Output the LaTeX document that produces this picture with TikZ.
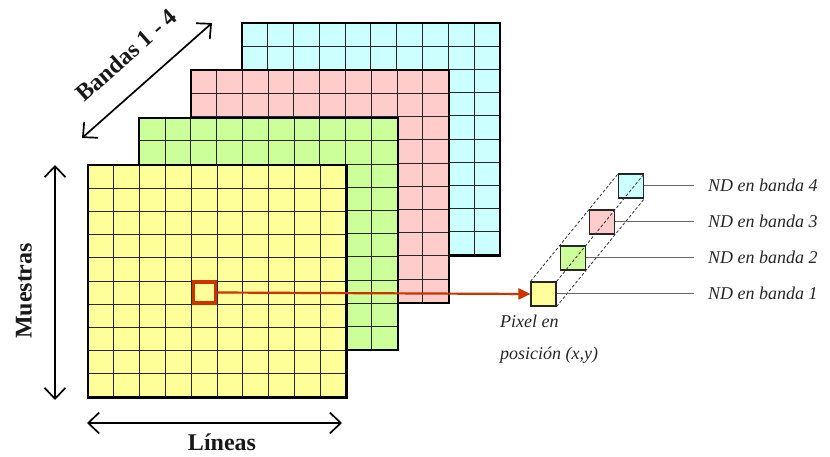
\documentclass[tikz,border=0pt]{standalone}
\usepackage{fontspec}
\setmainfont{Liberation Serif}
\usetikzlibrary{arrows.meta,calc}
\definecolor{cyanfill}{RGB}{204,255,255}
\definecolor{pinkfill}{RGB}{255,204,204}
\definecolor{greenfill}{RGB}{204,255,153}
\definecolor{yellowfill}{RGB}{255,255,153}
\definecolor{redline}{RGB}{204,51,0}
\tikzset{
  sheetbox/.style={fill=#1, draw=none, minimum width=258pt, minimum height=232pt, inner sep=0pt, anchor=north west},
  gridline/.style={line width=1pt, black!85},
  border/.style={line width=2.2pt, black},
  dimarrow/.style={line width=1.7pt, black, {Straight Barb[length=11pt,width=21pt,line width=1.7pt]}-{Straight Barb[length=11pt,width=21pt,line width=1.7pt]}},
  boldlabel/.style={font=\fontsize{24}{28}\selectfont\bfseries, text=black!90},
  itlabel/.style={font=\fontsize{18}{32}\selectfont\itshape, text=black!85},
  pixbox/.style={fill=#1, draw=black!85, line width=1.1pt, minimum width=25pt, minimum height=24pt, inner sep=0pt},
  dashline/.style={black!80, line width=0.8pt, dash pattern=on 3pt off 2pt},
  leader/.style={black!60, line width=0.8pt},
}
\newcommand{\sheetgrid}[1]{%
  \foreach \i in {1,...,9} {
    \draw[gridline] ($(#1.north west)+(\i*25.8,0)$) -- ($(#1.south west)+(\i*25.8,0)$);
    \draw[gridline] ($(#1.north west)+(0,\i*23.2)$) -- ($(#1.north east)+(0,\i*23.2)$);
  }
  \draw[border] (#1.north west) rectangle (#1.south east);
}
\begin{document}
\begin{tikzpicture}[x=1pt,y=-1pt]
\useasboundingbox (0,0) rectangle (830,457);
% sheets
\node[sheetbox=cyanfill] (b4) at (241.9,23.1) {};
\sheetgrid{b4}
\node[sheetbox=pinkfill] (b3) at (190.6,70.4) {};
\sheetgrid{b3}
\node[sheetbox=greenfill] (b2) at (139.3,117.7) {};
\sheetgrid{b2}
\node[sheetbox=yellowfill] (b1) at (88,165) {};
\sheetgrid{b1}
% selected pixel
\node[draw=redline, line width=3.5pt, minimum width=22pt, minimum height=21pt, inner sep=0pt] (px) at (204.5,292.5) {};
% pixel stack
\node[pixbox=yellowfill] (s1) at (543.5,294) {};
\node[pixbox=greenfill] (s2) at (572.8,258) {};
\node[pixbox=pinkfill] (s3) at (602.1,222) {};
\node[pixbox=cyanfill] (s4) at (631.4,186) {};
\draw[dashline] (s1.north west) -- (s4.north west);
\draw[dashline] (s1.north east) -- (s4.north east);
\draw[dashline] (s1.south east) -- (s4.south east);
% red arrow
\draw[redline, line width=2.2pt, -{Triangle[length=12pt,width=11pt]}] (px.east) -- (s1.west);
% band labels
\foreach \k/\y in {1/293,2/257,3/221,4/185} {
  \node[itlabel, anchor=west, inner xsep=0pt, inner ysep=0pt] (l\k) at (708,\y) {ND en banda \k};
  \coordinate (e\k) at ($(l\k.west)+(-14,0)$);
  \draw[leader] (s\k.east |- e\k) -- (e\k);
}
\node[itlabel, anchor=north west, align=left, inner sep=0pt] (pxl) at (500,315) {Pixel en\\posición (x,y)};
% dimension arrows
\coordinate (va) at (55,165);
\coordinate (vb) at (55,400);
\draw[dimarrow] (va) -- (vb);
\node[boldlabel, rotate=90] (mu) at (24,291) {Muestras};
\coordinate (ha) at (87,423);
\coordinate (hb) at (342,423);
\draw[dimarrow] (ha) -- (hb);
\node[boldlabel] (li) at (222,442) {Líneas};
\coordinate (da) at (82,138);
\coordinate (db) at (212,23);
\draw[dimarrow] (da) -- (db);
\node[boldlabel, rotate=41.5] (ba) at (126,55) {Bandas 1 - 4};
\end{tikzpicture}
\end{document}
